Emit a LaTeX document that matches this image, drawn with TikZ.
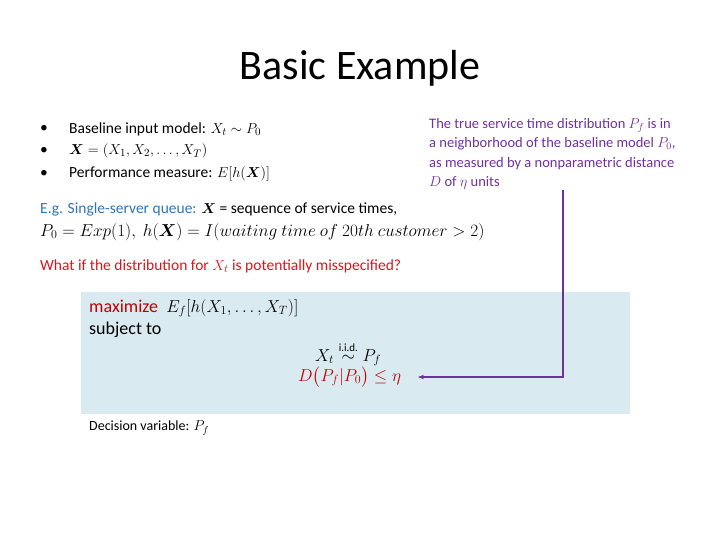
\documentclass[tikz,border=0pt]{standalone}
\usepackage{fontspec}
\setmainfont{Carlito}
\usepackage{amsmath}
\usetikzlibrary{arrows.meta}
\definecolor{eblue}{RGB}{46,117,182}
\definecolor{epurple}{RGB}{112,48,160}
\definecolor{ered}{RGB}{220,20,30}
\definecolor{dred}{RGB}{192,0,0}
\definecolor{boxfill}{RGB}{218,234,241}
\tikzset{txt/.style={anchor=west,inner sep=0pt,font=\fontsize{15.5}{18}\selectfont},
big/.style={anchor=west,inner sep=0pt,font=\fontsize{18}{20}\selectfont}}
\begin{document}
\begin{tikzpicture}[x=1pt,y=-1pt]
\useasboundingbox (0,0) rectangle (720,540);
\node[inner sep=0pt,font=\fontsize{42}{46}\selectfont] (title) at (360,68) {Basic Example};
\node[txt] (b1) at (40,129) {\textbullet};
\node[txt] (b2) at (40,151) {\textbullet};
\node[txt] (b3) at (40,174) {\textbullet};
\node[txt] (l1) at (69,129) {Baseline input model: $X_t\sim P_0$};
\node[txt] (l2) at (69,151) {$\boldsymbol{X}=(X_1,X_2,\dots,X_T)$};
\node[txt] (l3) at (69,174) {Performance measure: $E[h(\boldsymbol{X})]$};
\node[txt] (e1) at (40,209) {\textcolor{eblue}{E.g. Single-server queue:} $\boldsymbol{X}$ = sequence of service times,};
\node[txt,font=\fontsize{17.5}{20}\selectfont] (e2) at (40,232) {$P_0=Exp(1),\ h(\boldsymbol{X})=I(waiting\ time\ of\ 20th\ customer>2)$};
\node[txt,text=ered] (q) at (40,266) {What if the distribution for $X_t$ is potentially misspecified?};
\node[txt,text=epurple,align=left,anchor=north west,font=\fontsize{14.5}{19.5}\selectfont] (note) at (429,118) {The true service time distribution $P_f$ is in\\a neighborhood of the baseline model $P_0$,\\as measured by a nonparametric distance\\$D$ of $\eta$ units};
\fill[boxfill] (81,292) rectangle (630,414);
\node[big] (max) at (89,308) {\textcolor{dred}{maximize}\ \ $E_f[h(X_1,\dots,X_T)]$};
\node[big] (st) at (89,330) {subject to};
\node[big] (c1) at (315,354) {$X_t\overset{\text{\fontsize{11}{11}\selectfont i.i.d.}}{\sim}P_f$};
\node[big,text=dred] (c2) at (298,377) {$D\bigl(P_f|P_0\bigr)\le\eta$};
\node[txt,font=\fontsize{14}{16}\selectfont] (dv) at (89,428) {Decision variable: $P_f$};
\coordinate (top) at (563,190);
\coordinate (corner) at (563,377);
\coordinate (tip) at (418,377);
\draw[epurple,line width=1.5pt,-{Stealth[length=6pt]}] (top) -- (corner) -- (tip);
\end{tikzpicture}
\end{document}
